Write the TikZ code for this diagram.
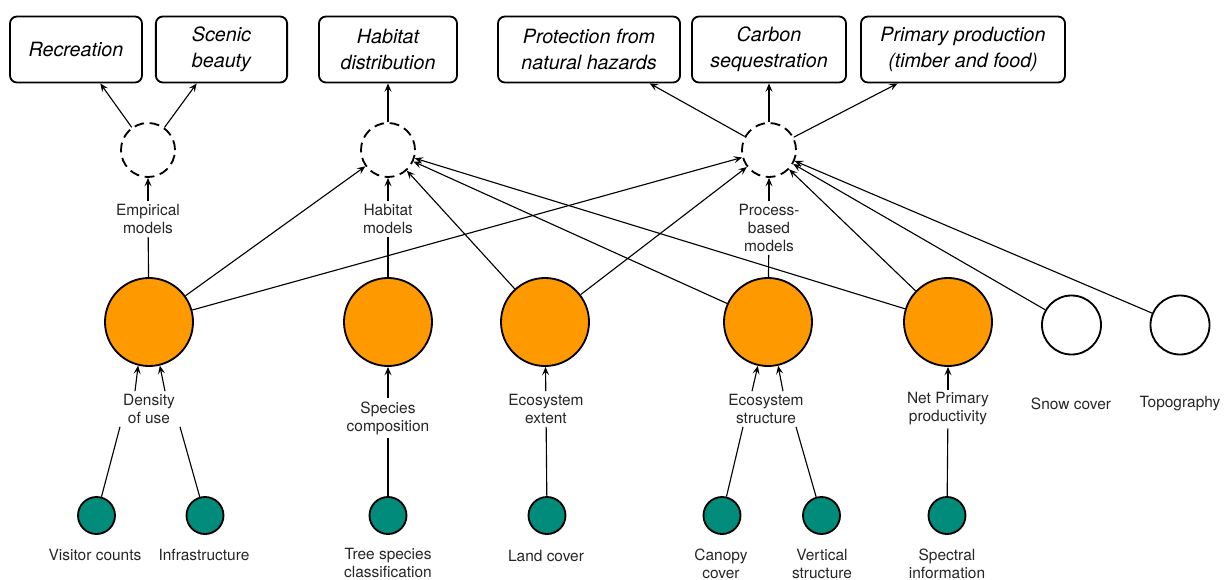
\documentclass[tikz,border=0pt]{standalone}
\usepackage{fontspec}
\setmainfont{TeX Gyre Heros}
\usetikzlibrary{arrows.meta,calc}
\definecolor{myorange}{HTML}{FF9900}
\definecolor{myteal}{HTML}{008B7A}

\tikzset{
  service/.style={draw, line width=1.3pt, rounded corners=5pt, minimum height=1.65cm,
    align=center, inner sep=2pt, font=\fontsize{14}{18.4}\selectfont\itshape},
  model/.style={circle, draw, line width=1.3pt, dash pattern=on 7pt off 4pt, minimum size=1.35cm},
  essvar/.style={circle, draw, line width=1.3pt, fill=myorange, minimum size=2.2cm},
  extravar/.style={circle, draw, line width=1.3pt, fill=white, minimum size=1.475cm},
  dataset/.style={circle, draw, line width=1.3pt, fill=myteal, minimum size=0.925cm},
  lbl/.style={align=center, inner sep=2pt, text=black!85, font=\fontsize{11}{12.8}\selectfont},
  arr/.style={line width=0.8pt, -{Stealth[length=6pt, width=5pt, inset=2.5pt]}},
  link/.style={line width=0.8pt}
}

\begin{document}
\begin{tikzpicture}[x=0.025cm, y=-0.025cm]
    \useasboundingbox (0,0) rectangle (1226,580);

    % ecosystem services
    \node[service, minimum width=3.3cm] (rec) at (76,49.5) {Recreation};
    \node[service, minimum width=3.28cm] (scen) at (221.5,49.5) {Scenic\\beauty};
    \node[service, minimum width=3.45cm] (habd) at (388,49.5) {Habitat\\distribution};
    \node[service, minimum width=4.55cm] (prot) at (589,49.5) {Protection from\\natural hazards};
    \node[service, minimum width=3.85cm] (carb) at (769,49.5) {Carbon\\sequestration};
    \node[service, minimum width=5.1cm] (prim) at (963,49.5) {Primary production\\(timber and food)};

    % models
    \node[model] (empm) at (148,150) {};
    \node[model] (habm) at (388,150) {};
    \node[model] (procm) at (769,150) {};
    \node[lbl] (emplbl) at (148,219) {Empirical\\models};
    \node[lbl] (hablbl) at (388,219) {Habitat\\models};
    \node[lbl] (proclbl) at (769,228) {Process-\\based\\models};

    % essential variables
    \node[essvar] (dou) at (149,322) {};
    \node[essvar] (spc) at (388,322) {};
    \node[essvar] (ext) at (545,322) {};
    \node[essvar] (str) at (768,322) {};
    \node[essvar] (npp) at (948,322) {};
    \node[extravar] (snow) at (1071.5,325) {};
    \node[extravar] (topo) at (1180,325) {};
    \node[lbl] (doulbl) at (149,409) {Density\\of use};
    \node[lbl] (spclbl) at (388,418) {Species\\composition};
    \node[lbl] (extlbl) at (546,409) {Ecosystem\\extent};
    \node[lbl] (strlbl) at (766,409) {Ecosystem\\structure};
    \node[lbl] (npplbl) at (948,409) {Net Primary\\productivity};
    \node[lbl] (snowlbl) at (1071,404) {Snow cover};
    \node[lbl] (topolbl) at (1180,404) {Topography};

    % remote sensing data
    \node[dataset] (visit) at (96.5,515.5) {};
    \node[dataset] (infra) at (205,515.5) {};
    \node[dataset] (tree) at (388,515.5) {};
    \node[dataset] (land) at (547,515.5) {};
    \node[dataset] (canopy) at (722,515.5) {};
    \node[dataset] (vert) at (821.5,515.5) {};
    \node[dataset] (spectral) at (947,515.5) {};
    \node[lbl] (visitlbl) at (95,555) {Visitor counts};
    \node[lbl] (infralbl) at (204,555) {Infrastructure};
    \node[lbl] (treelbl) at (388,563) {Tree species\\classification};
    \node[lbl] (landlbl) at (546,556) {Land cover};
    \node[lbl] (canopylbl) at (721,564) {Canopy\\cover};
    \node[lbl] (vertlbl) at (822,564) {Vertical\\structure};
    \node[lbl] (spectrallbl) at (947,564) {Spectral\\information};

    % data to variables
    \draw[link] (visit) -- ($(doulbl.south)+(-29,0)$);
    \draw[link] (infra) -- ($(doulbl.south)+(31,0)$);
    \draw[link] (tree) -- (spclbl);
    \draw[link] (land) -- (extlbl);
    \draw[link] (canopy) -- ($(strlbl.south)+(-23,0)$);
    \draw[link] (vert) -- ($(strlbl.south)+(30,0)$);
    \draw[link] (spectral) -- (npplbl);
    \draw[arr] ($(doulbl.north)+(-14,0)$) -- (dou.256);
    \draw[arr] ($(doulbl.north)+(16,0)$) -- (dou.284);
    \draw[arr] (spclbl) -- (spc);
    \draw[arr] (extlbl) -- (ext);
    \draw[arr] ($(strlbl.north)+(-14,0)$) -- (str.257);
    \draw[arr] ($(strlbl.north)+(17,0)$) -- (str.283);
    \draw[arr] (npplbl) -- (npp);

    % variables to models
    \draw[link] (dou) -- (emplbl);
    \draw[link] (spc) -- (hablbl);
    \draw[link] (str) -- (proclbl);
    \draw[arr] (emplbl) -- (empm);
    \draw[arr] (hablbl) -- (habm);
    \draw[arr] (proclbl) -- (procm);
    \foreach \src/\dst in {dou/habm, dou/procm, ext/habm, ext/procm, str/habm,
                           npp/habm, npp/procm, snow/procm, topo/procm}
      \draw[arr] (\src) -- (\dst);

    % models to services
    \draw[arr] (empm) -- (rec);
    \draw[arr] (empm) -- (scen);
    \draw[arr] (habm) -- (habd);
    \foreach \dst in {prot, carb, prim}
      \draw[arr] (procm) -- (\dst);
\end{tikzpicture}
\end{document}
